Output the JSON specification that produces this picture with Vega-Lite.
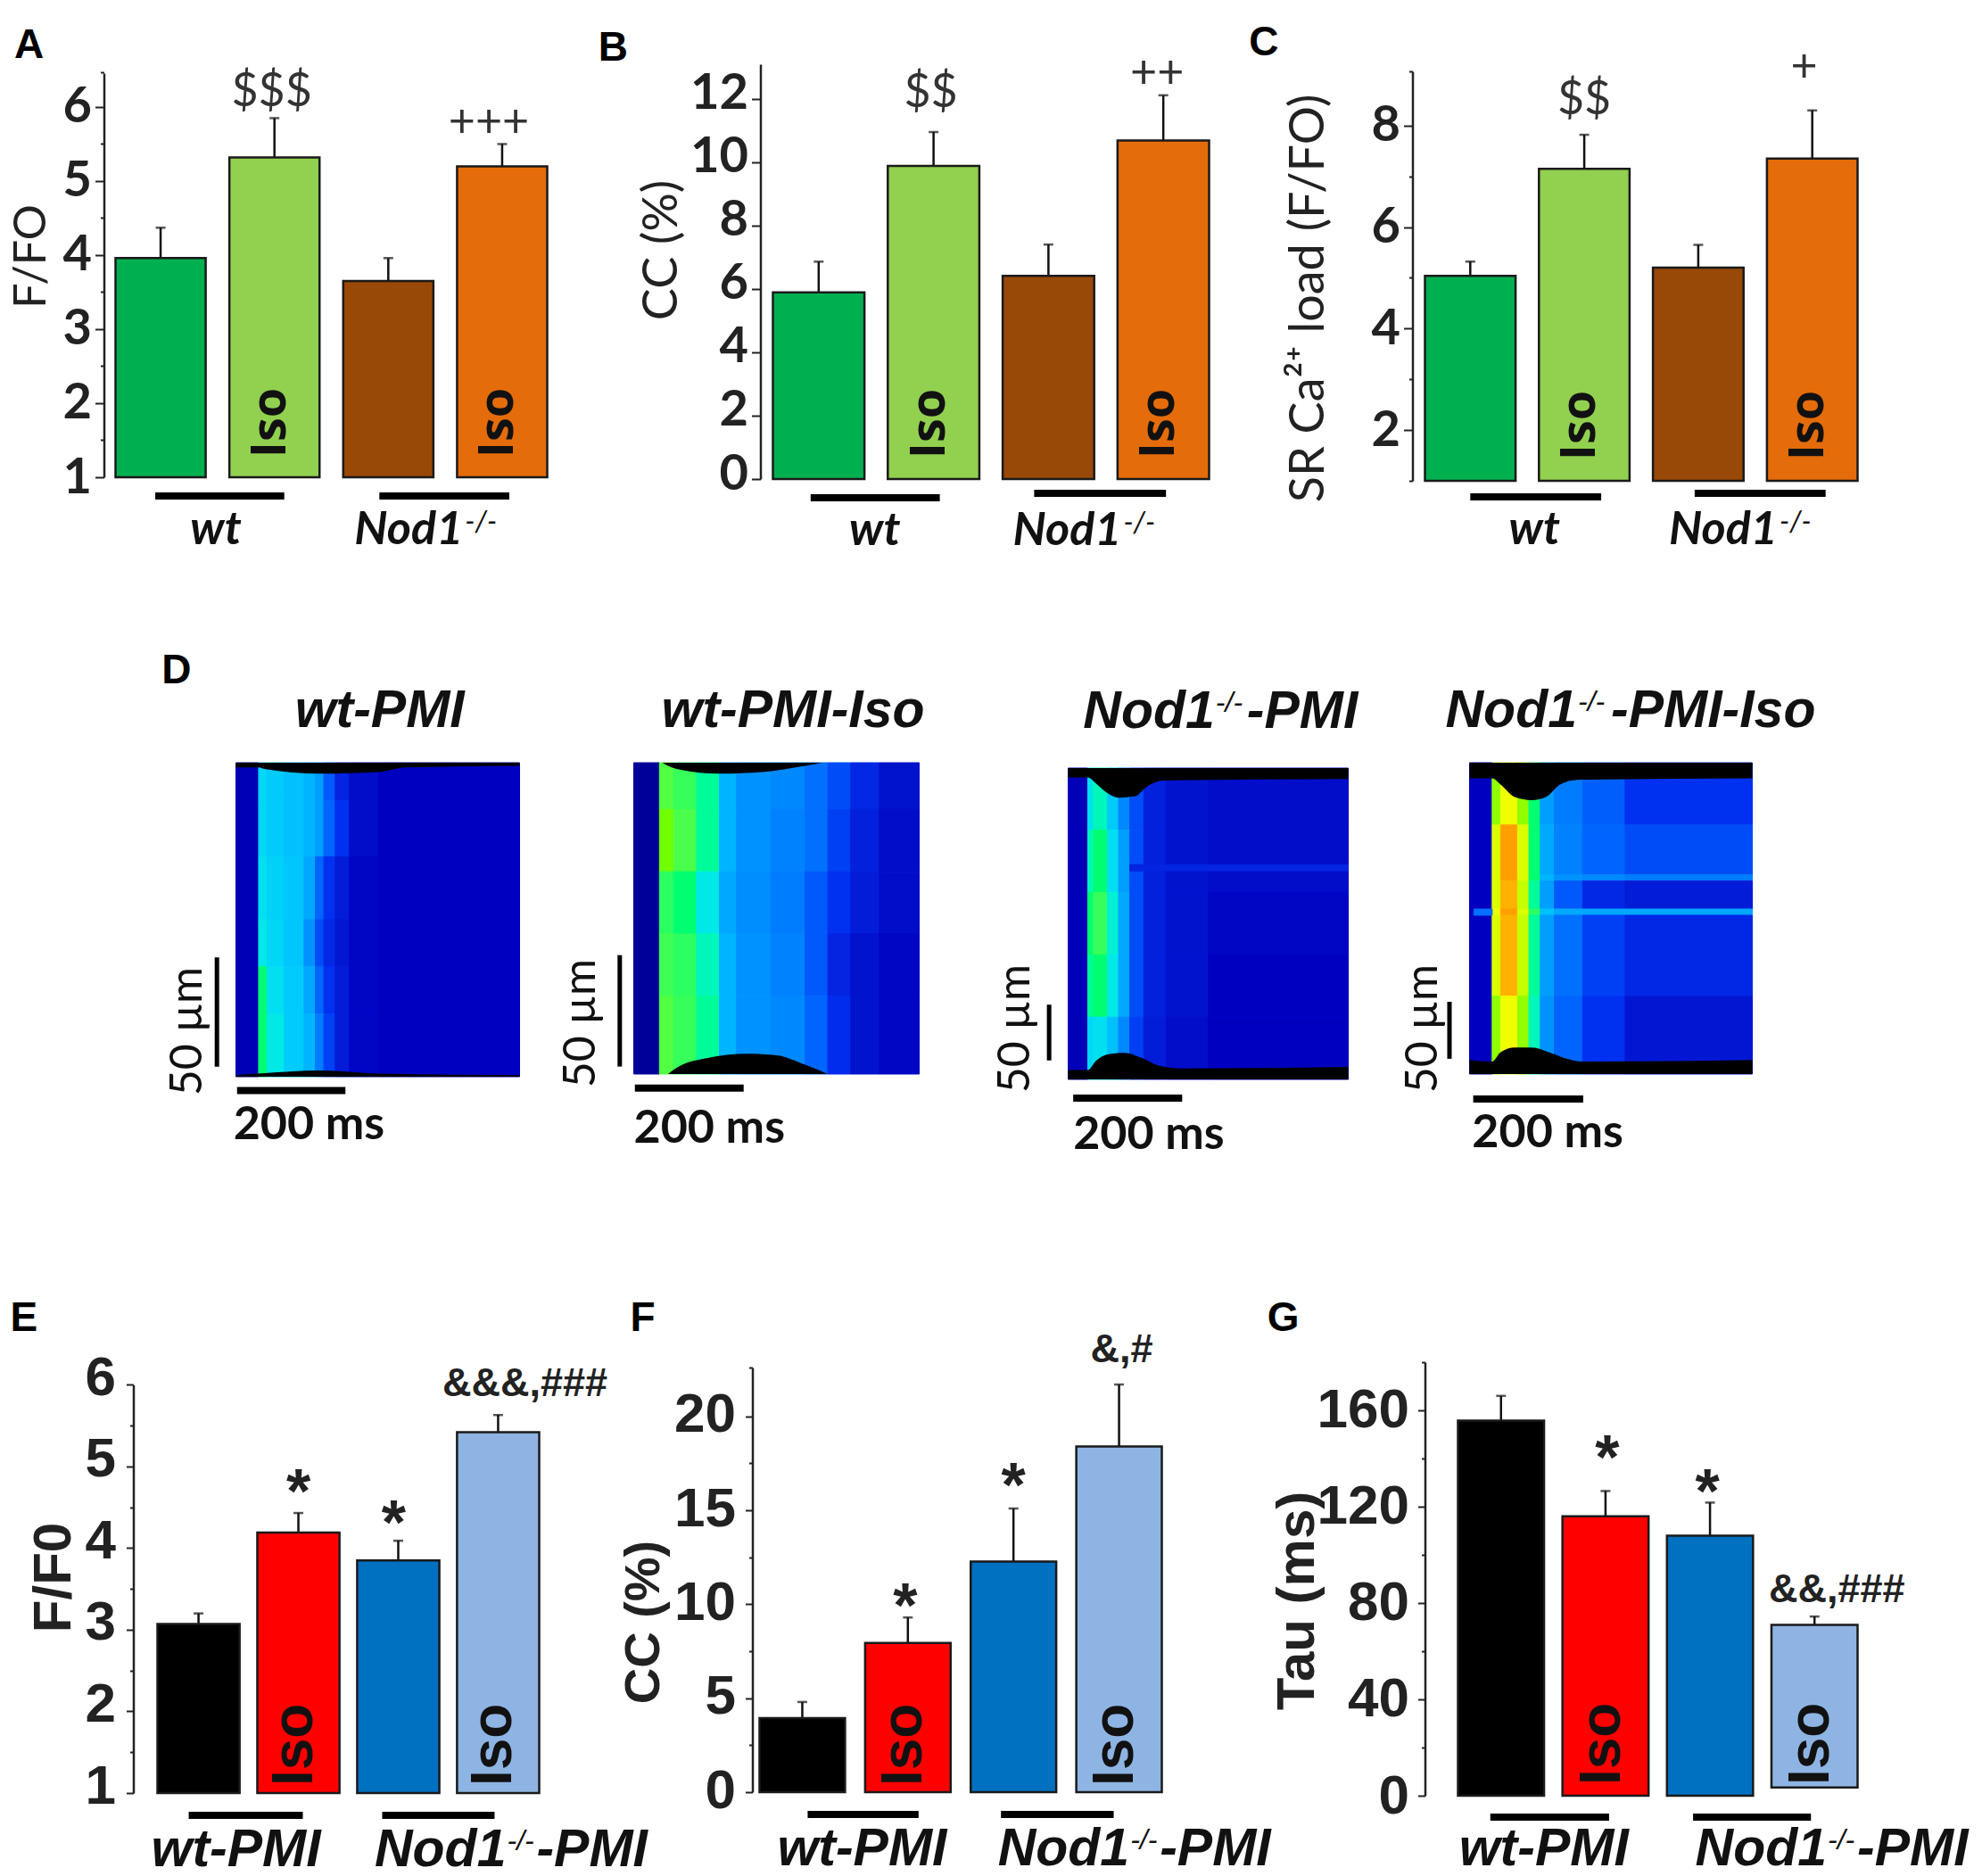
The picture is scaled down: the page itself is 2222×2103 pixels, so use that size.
{"$schema":"https://vega.github.io/schema/vega-lite/v6.json","bounds":"flush","spacing":672,"padding":{"left":10.5,"top":25,"right":0,"bottom":0},
"config":{"view":{"stroke":null},"range":{"heatmap":["#000080","#0000c0","#0030f0","#0070ff","#00a8ff","#00e0f0","#00ff70","#70ff00","#f0ff00","#ffa000","#ff3000"],"ramp":["#000080","#0000c0","#0030f0","#0070ff","#00a8ff","#00e0f0","#00ff70","#70ff00","#f0ff00","#ffa000","#ff3000"]},
"axis":{"grid":false,"domainColor":"#222","domainWidth":2.5,"tickColor":"#222","tickWidth":2,"labelColor":"#222","titleColor":"#222","labelOverlap":false,"labelFlush":false,"format":"d"},
"style":{
"letter":{"font":"Liberation Sans","fontWeight":"bold","fontSize":46,"align":"left","baseline":"alphabetic","color":"#000"},
"iso1":{"font":"Open Sans","fontWeight":"bold","fontSize":54,"angle":270,"align":"left","baseline":"middle","color":"#111"},
"iso3":{"font":"Liberation Sans","fontWeight":"bold","fontSize":64,"angle":270,"align":"left","baseline":"middle","color":"#111"},
"note1":{"font":"Lato","fontSize":52,"align":"center","baseline":"middle","color":"#333"},
"star":{"font":"Liberation Sans","fontWeight":"bold","fontSize":70,"align":"center","baseline":"middle","color":"#222"},
"note3":{"font":"Liberation Sans","fontWeight":"bold","fontSize":45,"align":"center","baseline":"middle","color":"#222"},
"lab1":{"font":"Lato","fontWeight":"bold","fontStyle":"italic","fontSize":52,"align":"center","baseline":"alphabetic","color":"#111"},
"lab1r":{"font":"Lato","fontWeight":"bold","fontStyle":"italic","fontSize":52,"align":"right","baseline":"alphabetic","color":"#111"},
"sup1":{"font":"Lato","fontStyle":"italic","fontSize":32,"align":"left","baseline":"alphabetic","color":"#111"},
"lab3":{"font":"Liberation Sans","fontWeight":"bold","fontStyle":"italic","fontSize":59,"align":"center","baseline":"alphabetic","color":"#111"},
"lab3r":{"font":"Liberation Sans","fontWeight":"bold","fontStyle":"italic","fontSize":59,"align":"right","baseline":"alphabetic","color":"#111"},
"lab3l":{"font":"Liberation Sans","fontWeight":"bold","fontStyle":"italic","fontSize":59,"align":"left","baseline":"alphabetic","color":"#111"},
"sup3":{"font":"Liberation Sans","fontStyle":"italic","fontSize":32,"align":"left","baseline":"alphabetic","color":"#111"},
"ms":{"font":"Lato","fontWeight":"bold","fontSize":52,"align":"left","baseline":"alphabetic","color":"#111"},
"um":{"font":"Lato","fontSize":50,"angle":270,"align":"center","baseline":"alphabetic","color":"#111"}
}},
"vconcat":[
{"bounds":"flush","spacing":60,"hconcat":[
{"width":676,"height":463,"data":{"values":[{"g":"1 wt","v":3.96,"e":4.37,"b":1},{"g":"2 wt Iso","v":5.32,"e":5.85,"b":1},{"g":"3 Nod1","v":3.65,"e":3.96,"b":1},{"g":"4 Nod1 Iso","v":5.2,"e":5.5,"b":1}]},
"layer":[
{"mark":{"type":"rule","strokeWidth":2.5,"color":"#111"},"encoding":{"x":{"field":"g","type":"nominal","axis":null},"y":{"field":"v","type":"quantitative","scale":{"domain":[1,6.578]}},"y2":{"field":"e"}}},
{"mark":{"type":"tick","size":11,"thickness":2.5,"color":"#111"},"encoding":{"x":{"field":"g","type":"nominal","axis":null},"y":{"field":"e","type":"quantitative","scale":{"domain":[1,6.578]}}}},
{"mark":{"type":"bar","stroke":"#1a1a1a","strokeWidth":2.5},"encoding":{"x":{"field":"g","type":"nominal","axis":null,"scale":{"range":[13,497],"paddingInner":0.208,"paddingOuter":0}},"y":{"field":"v","type":"quantitative","scale":{"domain":[1,6.578]},"axis":{"title":"F/FO","values":[1,1.5,2,2.5,3,3.5,4,4.5,5,5.5,6,6.47],"domainDash":[453,2000],"labelExpr":"datum.value % 1 == 0 ? datum.label : ''","tickSize":{"condition":{"test":"datum.value % 1 == 0","value":10},"value":4},"labelFont":"Lato","labelFontWeight":"bold","labelFontSize":56,"labelPadding":4,"titleFont":"Lato","titleFontWeight":"normal","titleFontSize":50,"titleX":-56,"titleY":215}},"y2":{"field":"b"},"color":{"field":"g","type":"nominal","legend":null,"scale":{"range":["#00b050","#92d050","#984807","#e46c0a"]}}}},
{"transform":[{"filter":"indexof(datum.g,'Iso')>=0"}],"mark":{"type":"text","style":"iso1","yOffset":-22,"xOffset":-4},"encoding":{"x":{"field":"g","type":"nominal","axis":null},"y":{"datum":1,"type":"quantitative","scale":{"domain":[1,6.578]}},"text":{"value":"Iso"}}},
{"data":{"values":[{"g":"2 wt Iso","t":"$$$","y":6.2}]},"mark":{"type":"text","style":"note1","xOffset":-3},"encoding":{"x":{"field":"g","type":"nominal","axis":null},"y":{"field":"y","type":"quantitative","scale":{"domain":[1,6.578]}},"text":{"field":"t"}}},
{"data":{"values":[{"g":"4 Nod1 Iso","t":"+++","y":5.78}]},"mark":{"type":"text","style":"note1","xOffset":-15},"encoding":{"x":{"field":"g","type":"nominal","axis":null},"y":{"field":"y","type":"quantitative","scale":{"domain":[1,6.578]}},"text":{"field":"t"}}},
{"data":{"values":[{"s":"1 wt","t":"2 wt Iso"}]},"mark":{"type":"rule","strokeWidth":8,"color":"#000","yOffset":21,"xOffset":-6,"x2Offset":11},"encoding":{"x":{"field":"s","type":"nominal","axis":null},"x2":{"field":"t"},"y":{"datum":1,"type":"quantitative","scale":{"domain":[1,6.578]}}}},
{"data":{"values":[{"s":"3 Nod1","t":"4 Nod1 Iso"}]},"mark":{"type":"rule","strokeWidth":8,"color":"#000","yOffset":21,"xOffset":-10,"x2Offset":8},"encoding":{"x":{"field":"s","type":"nominal","axis":null},"x2":{"field":"t"},"y":{"datum":1,"type":"quantitative","scale":{"domain":[1,6.578]}}}},
{"data":{"values":[{"g":"1 wt","t":"wt"}]},"mark":{"type":"text","style":"lab1","yOffset":75,"xOffset":62},"encoding":{"x":{"field":"g","type":"nominal","axis":null},"y":{"datum":1,"type":"quantitative","scale":{"domain":[1,6.578]}},"text":{"field":"t"}}},
{"data":{"values":[{"g":"3 Nod1","t":"Nod1"}]},"mark":{"type":"text","style":"lab1r","yOffset":75,"xOffset":84},"encoding":{"x":{"field":"g","type":"nominal","axis":null},"y":{"datum":1,"type":"quantitative","scale":{"domain":[1,6.578]}},"text":{"field":"t"}}},
{"data":{"values":[{"g":"3 Nod1","t":"-/-"}]},"mark":{"type":"text","style":"sup1","yOffset":61,"xOffset":86},"encoding":{"x":{"field":"g","type":"nominal","axis":null},"y":{"datum":1,"type":"quantitative","scale":{"domain":[1,6.578]}},"text":{"field":"t"}}},
{"data":{"values":[{"g":"1 wt","t":"A","y":6.66}]},"mark":{"type":"text","style":"letter","xOffset":-164},"encoding":{"x":{"field":"g","type":"nominal","axis":null},"y":{"field":"y","type":"quantitative","scale":{"domain":[1,6.578]}},"text":{"field":"t"}}}
]},
{"width":671,"height":465,"data":{"values":[{"g":"1 wt","v":5.89,"e":6.86,"b":0},{"g":"2 wt Iso","v":9.88,"e":10.95,"b":0},{"g":"3 Nod1","v":6.41,"e":7.4,"b":0},{"g":"4 Nod1 Iso","v":10.68,"e":12.11,"b":0}]},
"layer":[
{"mark":{"type":"rule","strokeWidth":2.5,"color":"#111"},"encoding":{"x":{"field":"g","type":"nominal","axis":null},"y":{"field":"v","type":"quantitative","scale":{"domain":[0,13.09]}},"y2":{"field":"e"}}},
{"mark":{"type":"tick","size":11,"thickness":2.5,"color":"#111"},"encoding":{"x":{"field":"g","type":"nominal","axis":null},"y":{"field":"e","type":"quantitative","scale":{"domain":[0,13.09]}}}},
{"mark":{"type":"bar","stroke":"#1a1a1a","strokeWidth":2.5},"encoding":{"x":{"field":"g","type":"nominal","axis":null,"scale":{"range":[14,503],"paddingInner":0.203,"paddingOuter":0}},"y":{"field":"v","type":"quantitative","scale":{"domain":[0,13.09]},"axis":{"title":"CC (%)","values":[0,1,2,3,4,5,6,7,8,9,10,11,12,13.09],"labelExpr":"datum.value % 2 == 0 ? datum.label : ''","tickSize":{"condition":{"test":"datum.value % 2 == 0","value":10},"value":4},"labelFont":"Lato","labelFontWeight":"bold","labelFontSize":56,"labelPadding":4,"labelOffset":-6,"titleFont":"Lato","titleFontWeight":"normal","titleFontSize":54,"titleX":-83,"titleY":208}},"y2":{"field":"b"},"color":{"field":"g","type":"nominal","legend":null,"scale":{"range":["#00b050","#92d050","#984807","#e46c0a"]}}}},
{"transform":[{"filter":"indexof(datum.g,'Iso')>=0"}],"mark":{"type":"text","style":"iso1","yOffset":-23,"xOffset":-4},"encoding":{"x":{"field":"g","type":"nominal","axis":null},"y":{"datum":0,"type":"quantitative","scale":{"domain":[0,13.09]}},"text":{"value":"Iso"}}},
{"data":{"values":[{"g":"2 wt Iso","t":"$$","y":12.2}]},"mark":{"type":"text","style":"note1","xOffset":-3},"encoding":{"x":{"field":"g","type":"nominal","axis":null},"y":{"field":"y","type":"quantitative","scale":{"domain":[0,13.09]}},"text":{"field":"t"}}},
{"data":{"values":[{"g":"4 Nod1 Iso","t":"++","y":12.77}]},"mark":{"type":"text","style":"note1","xOffset":-7},"encoding":{"x":{"field":"g","type":"nominal","axis":null},"y":{"field":"y","type":"quantitative","scale":{"domain":[0,13.09]}},"text":{"field":"t"}}},
{"data":{"values":[{"s":"1 wt","t":"2 wt Iso"}]},"mark":{"type":"rule","strokeWidth":8,"color":"#000","yOffset":21,"xOffset":-9,"x2Offset":7},"encoding":{"x":{"field":"s","type":"nominal","axis":null},"x2":{"field":"t"},"y":{"datum":0,"type":"quantitative","scale":{"domain":[0,13.09]}}}},
{"data":{"values":[{"s":"3 Nod1","t":"4 Nod1 Iso"}]},"mark":{"type":"rule","strokeWidth":8,"color":"#000","yOffset":16,"xOffset":-16,"x2Offset":3},"encoding":{"x":{"field":"s","type":"nominal","axis":null},"x2":{"field":"t"},"y":{"datum":0,"type":"quantitative","scale":{"domain":[0,13.09]}}}},
{"data":{"values":[{"g":"1 wt","t":"wt"}]},"mark":{"type":"text","style":"lab1","yOffset":74,"xOffset":63},"encoding":{"x":{"field":"g","type":"nominal","axis":null},"y":{"datum":0,"type":"quantitative","scale":{"domain":[0,13.09]}},"text":{"field":"t"}}},
{"data":{"values":[{"g":"3 Nod1","t":"Nod1"}]},"mark":{"type":"text","style":"lab1r","yOffset":74,"xOffset":82},"encoding":{"x":{"field":"g","type":"nominal","axis":null},"y":{"datum":0,"type":"quantitative","scale":{"domain":[0,13.09]}},"text":{"field":"t"}}},
{"data":{"values":[{"g":"3 Nod1","t":"-/-"}]},"mark":{"type":"text","style":"sup1","yOffset":60,"xOffset":84},"encoding":{"x":{"field":"g","type":"nominal","axis":null},"y":{"datum":0,"type":"quantitative","scale":{"domain":[0,13.09]}},"text":{"field":"t"}}},
{"data":{"values":[{"g":"1 wt","t":"B","y":13.2}]},"mark":{"type":"text","style":"letter","xOffset":-247},"encoding":{"x":{"field":"g","type":"nominal","axis":null},"y":{"field":"y","type":"quantitative","scale":{"domain":[0,13.09]}},"text":{"field":"t"}}}
]},
{"width":520,"height":467,"data":{"values":[{"g":"1 wt","v":5.04,"e":5.32,"b":1},{"g":"2 wt Iso","v":7.15,"e":7.82,"b":1},{"g":"3 Nod1","v":5.2,"e":5.65,"b":1},{"g":"4 Nod1 Iso","v":7.35,"e":8.3,"b":1}]},
"layer":[
{"mark":{"type":"rule","strokeWidth":2.5,"color":"#111"},"encoding":{"x":{"field":"g","type":"nominal","axis":null},"y":{"field":"v","type":"quantitative","scale":{"domain":[1,9.21]}},"y2":{"field":"e"}}},
{"mark":{"type":"tick","size":11,"thickness":2.5,"color":"#111"},"encoding":{"x":{"field":"g","type":"nominal","axis":null},"y":{"field":"e","type":"quantitative","scale":{"domain":[1,9.21]}}}},
{"mark":{"type":"bar","stroke":"#1a1a1a","strokeWidth":2.5},"encoding":{"x":{"field":"g","type":"nominal","axis":null,"scale":{"range":[14,499],"paddingInner":0.205,"paddingOuter":0}},"y":{"field":"v","type":"quantitative","scale":{"domain":[1,9.21]},"axis":{"title":"SR Ca²⁺ load (F/FO)","values":[1,2,3,4,5,6,7,8,9.07],"domainDash":[459,2000],"labelExpr":"datum.value % 2 == 0 ? datum.label : ''","tickSize":{"condition":{"test":"datum.value % 2 == 0","value":10},"value":4},"labelFont":"Lato","labelFontWeight":"bold","labelFontSize":56,"labelPadding":4,"titleFont":"Lato","titleFontWeight":"normal","titleFontSize":54,"titleX":-89,"titleY":262}},"y2":{"field":"b"},"color":{"field":"g","type":"nominal","legend":null,"scale":{"range":["#00b050","#92d050","#984807","#e46c0a"]}}}},
{"transform":[{"filter":"indexof(datum.g,'Iso')>=0"}],"mark":{"type":"text","style":"iso1","yOffset":-23,"xOffset":-4},"encoding":{"x":{"field":"g","type":"nominal","axis":null},"y":{"datum":1,"type":"quantitative","scale":{"domain":[1,9.21]}},"text":{"value":"Iso"}}},
{"data":{"values":[{"g":"2 wt Iso","t":"$$","y":8.5}]},"mark":{"type":"text","style":"note1"},"encoding":{"x":{"field":"g","type":"nominal","axis":null},"y":{"field":"y","type":"quantitative","scale":{"domain":[1,9.21]}},"text":{"field":"t"}}},
{"data":{"values":[{"g":"4 Nod1 Iso","t":"+","y":9.14}]},"mark":{"type":"text","style":"note1","xOffset":-9},"encoding":{"x":{"field":"g","type":"nominal","axis":null},"y":{"field":"y","type":"quantitative","scale":{"domain":[1,9.21]}},"text":{"field":"t"}}},
{"data":{"values":[{"s":"1 wt","t":"2 wt Iso"}]},"mark":{"type":"rule","strokeWidth":8,"color":"#000","yOffset":18,"xOffset":0,"x2Offset":19},"encoding":{"x":{"field":"s","type":"nominal","axis":null},"x2":{"field":"t"},"y":{"datum":1,"type":"quantitative","scale":{"domain":[1,9.21]}}}},
{"data":{"values":[{"s":"3 Nod1","t":"4 Nod1 Iso"}]},"mark":{"type":"rule","strokeWidth":8,"color":"#000","yOffset":14,"xOffset":-4,"x2Offset":15},"encoding":{"x":{"field":"s","type":"nominal","axis":null},"x2":{"field":"t"},"y":{"datum":1,"type":"quantitative","scale":{"domain":[1,9.21]}}}},
{"data":{"values":[{"g":"1 wt","t":"wt"}]},"mark":{"type":"text","style":"lab1","yOffset":71,"xOffset":72},"encoding":{"x":{"field":"g","type":"nominal","axis":null},"y":{"datum":1,"type":"quantitative","scale":{"domain":[1,9.21]}},"text":{"field":"t"}}},
{"data":{"values":[{"g":"3 Nod1","t":"Nod1"}]},"mark":{"type":"text","style":"lab1r","yOffset":71,"xOffset":89},"encoding":{"x":{"field":"g","type":"nominal","axis":null},"y":{"datum":1,"type":"quantitative","scale":{"domain":[1,9.21]}},"text":{"field":"t"}}},
{"data":{"values":[{"g":"3 Nod1","t":"-/-"}]},"mark":{"type":"text","style":"sup1","yOffset":57,"xOffset":91},"encoding":{"x":{"field":"g","type":"nominal","axis":null},"y":{"datum":1,"type":"quantitative","scale":{"domain":[1,9.21]}},"text":{"field":"t"}}},
{"data":{"values":[{"g":"1 wt","t":"C","y":9.38}]},"mark":{"type":"text","style":"letter","xOffset":-248},"encoding":{"x":{"field":"g","type":"nominal","axis":null},"y":{"field":"y","type":"quantitative","scale":{"domain":[1,9.21]}},"text":{"field":"t"}}}
]}
]},
{"bounds":"flush","spacing":100,"hconcat":[
{"width":494,"height":463,
"layer":[
{"data":{"values":[{"x":0,"x2":8,"y":0,"y2":100,"v":0.085},{"x":50,"x2":100,"y":0,"y2":100,"v":0.1},
{"x":8,"x2":11,"y":0,"y2":12,"v":0.48},{"x":11,"x2":17,"y":0,"y2":12,"v":0.46},{"x":17,"x2":24,"y":0,"y2":12,"v":0.44},{"x":24,"x2":28,"y":0,"y2":12,"v":0.42},{"x":28,"x2":31,"y":0,"y2":12,"v":0.38},{"x":31,"x2":35,"y":0,"y2":12,"v":0.26},{"x":35,"x2":40,"y":0,"y2":12,"v":0.17},{"x":40,"x2":50,"y":0,"y2":12,"v":0.12},
{"x":8,"x2":11,"y":12,"y2":30,"v":0.48},{"x":11,"x2":17,"y":12,"y2":30,"v":0.46},{"x":17,"x2":24,"y":12,"y2":30,"v":0.44},{"x":24,"x2":28,"y":12,"y2":30,"v":0.42},{"x":28,"x2":31,"y":12,"y2":30,"v":0.38},{"x":31,"x2":35,"y":12,"y2":30,"v":0.28},{"x":35,"x2":40,"y":12,"y2":30,"v":0.2},{"x":40,"x2":50,"y":12,"y2":30,"v":0.12},
{"x":8,"x2":11,"y":30,"y2":50,"v":0.5},{"x":11,"x2":17,"y":30,"y2":50,"v":0.47},{"x":17,"x2":24,"y":30,"y2":50,"v":0.45},{"x":24,"x2":28,"y":30,"y2":50,"v":0.4},{"x":28,"x2":31,"y":30,"y2":50,"v":0.28},{"x":31,"x2":35,"y":30,"y2":50,"v":0.2},{"x":35,"x2":40,"y":30,"y2":50,"v":0.15},{"x":40,"x2":50,"y":30,"y2":50,"v":0.11},
{"x":8,"x2":11,"y":50,"y2":65,"v":0.52},{"x":11,"x2":17,"y":50,"y2":65,"v":0.48},{"x":17,"x2":24,"y":50,"y2":65,"v":0.45},{"x":24,"x2":28,"y":50,"y2":65,"v":0.36},{"x":28,"x2":31,"y":50,"y2":65,"v":0.24},{"x":31,"x2":35,"y":50,"y2":65,"v":0.18},{"x":35,"x2":40,"y":50,"y2":65,"v":0.14},{"x":40,"x2":50,"y":50,"y2":65,"v":0.11},
{"x":8,"x2":11,"y":65,"y2":80,"v":0.6},{"x":11,"x2":17,"y":65,"y2":80,"v":0.5},{"x":17,"x2":24,"y":65,"y2":80,"v":0.46},{"x":24,"x2":28,"y":65,"y2":80,"v":0.4},{"x":28,"x2":31,"y":65,"y2":80,"v":0.28},{"x":31,"x2":35,"y":65,"y2":80,"v":0.2},{"x":35,"x2":40,"y":65,"y2":80,"v":0.15},{"x":40,"x2":50,"y":65,"y2":80,"v":0.11},
{"x":8,"x2":11,"y":80,"y2":100,"v":0.6},{"x":11,"x2":17,"y":80,"y2":100,"v":0.52},{"x":17,"x2":24,"y":80,"y2":100,"v":0.46},{"x":24,"x2":28,"y":80,"y2":100,"v":0.42},{"x":28,"x2":31,"y":80,"y2":100,"v":0.32},{"x":31,"x2":35,"y":80,"y2":100,"v":0.22},{"x":35,"x2":40,"y":80,"y2":100,"v":0.15},{"x":40,"x2":50,"y":80,"y2":100,"v":0.11}]},
"mark":{"type":"rect","strokeWidth":1},"encoding":{"x":{"field":"x","type":"quantitative","axis":null,"scale":{"domain":[0,100],"range":[148,466]}},"x2":{"field":"x2"},"y":{"field":"y","type":"quantitative","axis":null,"scale":{"domain":[0,100],"range":[111,463]}},"y2":{"field":"y2"},"color":{"field":"v","type":"quantitative","legend":null,"scale":{"domain":[0,1]}},"stroke":{"field":"v","type":"quantitative","legend":null,"scale":{"domain":[0,1]}}}},
{"data":{"values":[{"x":0,"y":1.5},{"x":8,"y":1.5},{"x":10,"y":2},{"x":30,"y":3.5},{"x":50,"y":3},{"x":60,"y":1.5},{"x":100,"y":1}]},"mark":{"type":"area","interpolate":"monotone","color":"#000"},"encoding":{"x":{"field":"x","type":"quantitative","axis":null,"scale":{"domain":[0,100],"range":[148,466]}},"y":{"field":"y","type":"quantitative","axis":null,"scale":{"domain":[0,100],"range":[111,463]}},"y2":{"datum":0}}},
{"data":{"values":[{"x":0,"y":99.5},{"x":8,"y":99},{"x":30,"y":98},{"x":50,"y":99},{"x":100,"y":99.5}]},"mark":{"type":"area","interpolate":"monotone","color":"#000"},"encoding":{"x":{"field":"x","type":"quantitative","axis":null,"scale":{"domain":[0,100],"range":[148,466]}},"y":{"field":"y","type":"quantitative","axis":null,"scale":{"domain":[0,100],"range":[111,463]}},"y2":{"datum":100}}},
{"data":{"values":[{"x":-6.7,"y":62,"y2":96.8}]},"mark":{"type":"rule","strokeWidth":5,"color":"#000"},"encoding":{"x":{"field":"x","type":"quantitative","axis":null,"scale":{"domain":[0,100],"range":[148,466]}},"y":{"field":"y","type":"quantitative","axis":null,"scale":{"domain":[0,100],"range":[111,463]}},"y2":{"field":"y2"}}},
{"data":{"values":[{"x":0.4,"x2":38.6,"y":104.4}]},"mark":{"type":"rule","strokeWidth":8,"color":"#000"},"encoding":{"x":{"field":"x","type":"quantitative","axis":null,"scale":{"domain":[0,100],"range":[148,466]}},"x2":{"field":"x2"},"y":{"field":"y","type":"quantitative","axis":null,"scale":{"domain":[0,100],"range":[111,463]}}}},
{"data":{"values":[{"x":-0.9,"y":119.8,"t":"200 ms"}]},"mark":{"type":"text","style":"ms"},"encoding":{"x":{"field":"x","type":"quantitative","axis":null,"scale":{"domain":[0,100],"range":[148,466]}},"y":{"field":"y","type":"quantitative","axis":null,"scale":{"domain":[0,100],"range":[111,463]}},"text":{"field":"t"}}},
{"data":{"values":[{"x":-12,"y":85.5,"t":"50 µm"}]},"mark":{"type":"text","style":"um"},"encoding":{"x":{"field":"x","type":"quantitative","axis":null,"scale":{"domain":[0,100],"range":[148,466]}},"y":{"field":"y","type":"quantitative","axis":null,"scale":{"domain":[0,100],"range":[111,463]}},"text":{"field":"t"}}},
{"data":{"values":[{"x":50.7,"y":-11.3,"t":"wt-PMI"}]},"mark":{"type":"text","style":"lab3"},"encoding":{"x":{"field":"x","type":"quantitative","axis":null,"scale":{"domain":[0,100],"range":[148,466]}},"y":{"field":"y","type":"quantitative","axis":null,"scale":{"domain":[0,100],"range":[111,463]}},"text":{"field":"t"}}},
{"data":{"values":[{"x":-26.2,"y":-25.4,"t":"D"}]},"mark":{"type":"text","style":"letter"},"encoding":{"x":{"field":"x","type":"quantitative","axis":null,"scale":{"domain":[0,100],"range":[148,466]}},"y":{"field":"y","type":"quantitative","axis":null,"scale":{"domain":[0,100],"range":[111,463]}},"text":{"field":"t"}}}
]},
{"width":387,"height":460,
"layer":[
{"data":{"values":[{"x":0,"x2":9,"y":0,"y2":100,"v":0.04},
{"x":9,"x2":14,"y":0,"y2":15,"v":0.66},{"x":14,"x2":22,"y":0,"y2":15,"v":0.63},{"x":22,"x2":30,"y":0,"y2":15,"v":0.58},{"x":30,"x2":36,"y":0,"y2":15,"v":0.42},{"x":36,"x2":48,"y":0,"y2":15,"v":0.36},{"x":48,"x2":60,"y":0,"y2":15,"v":0.34},{"x":60,"x2":68,"y":0,"y2":15,"v":0.3},{"x":68,"x2":76,"y":0,"y2":15,"v":0.24},{"x":76,"x2":86,"y":0,"y2":15,"v":0.18},{"x":86,"x2":100,"y":0,"y2":15,"v":0.13},
{"x":9,"x2":14,"y":15,"y2":35,"v":0.7},{"x":14,"x2":22,"y":15,"y2":35,"v":0.65},{"x":22,"x2":30,"y":15,"y2":35,"v":0.58},{"x":30,"x2":36,"y":15,"y2":35,"v":0.42},{"x":36,"x2":48,"y":15,"y2":35,"v":0.36},{"x":48,"x2":60,"y":15,"y2":35,"v":0.33},{"x":60,"x2":68,"y":15,"y2":35,"v":0.3},{"x":68,"x2":76,"y":15,"y2":35,"v":0.22},{"x":76,"x2":86,"y":15,"y2":35,"v":0.16},{"x":86,"x2":100,"y":15,"y2":35,"v":0.12},
{"x":9,"x2":14,"y":35,"y2":55,"v":0.62},{"x":14,"x2":22,"y":35,"y2":55,"v":0.6},{"x":22,"x2":30,"y":35,"y2":55,"v":0.52},{"x":30,"x2":36,"y":35,"y2":55,"v":0.4},{"x":36,"x2":48,"y":35,"y2":55,"v":0.35},{"x":48,"x2":60,"y":35,"y2":55,"v":0.32},{"x":60,"x2":68,"y":35,"y2":55,"v":0.26},{"x":68,"x2":76,"y":35,"y2":55,"v":0.2},{"x":76,"x2":86,"y":35,"y2":55,"v":0.15},{"x":86,"x2":100,"y":35,"y2":55,"v":0.12},
{"x":9,"x2":14,"y":55,"y2":75,"v":0.64},{"x":14,"x2":22,"y":55,"y2":75,"v":0.62},{"x":22,"x2":30,"y":55,"y2":75,"v":0.56},{"x":30,"x2":36,"y":55,"y2":75,"v":0.42},{"x":36,"x2":48,"y":55,"y2":75,"v":0.36},{"x":48,"x2":60,"y":55,"y2":75,"v":0.33},{"x":60,"x2":68,"y":55,"y2":75,"v":0.26},{"x":68,"x2":76,"y":55,"y2":75,"v":0.17},{"x":76,"x2":86,"y":55,"y2":75,"v":0.13},{"x":86,"x2":100,"y":55,"y2":75,"v":0.11},
{"x":9,"x2":14,"y":75,"y2":100,"v":0.66},{"x":14,"x2":22,"y":75,"y2":100,"v":0.63},{"x":22,"x2":30,"y":75,"y2":100,"v":0.58},{"x":30,"x2":36,"y":75,"y2":100,"v":0.42},{"x":36,"x2":48,"y":75,"y2":100,"v":0.36},{"x":48,"x2":60,"y":75,"y2":100,"v":0.34},{"x":60,"x2":68,"y":75,"y2":100,"v":0.28},{"x":68,"x2":76,"y":75,"y2":100,"v":0.19},{"x":76,"x2":86,"y":75,"y2":100,"v":0.13},{"x":86,"x2":100,"y":75,"y2":100,"v":0.11}]},
"mark":{"type":"rect","strokeWidth":1},"encoding":{"x":{"field":"x","type":"quantitative","axis":null,"scale":{"domain":[0,100],"range":[0,320]}},"x2":{"field":"x2"},"y":{"field":"y","type":"quantitative","axis":null,"scale":{"domain":[0,100],"range":[111,460]}},"y2":{"field":"y2"},"color":{"field":"v","type":"quantitative","legend":null,"scale":{"domain":[0,1]}},"stroke":{"field":"v","type":"quantitative","legend":null,"scale":{"domain":[0,1]}}}},
{"data":{"values":[{"x":10,"y":0},{"x":15,"y":2},{"x":30,"y":3.5},{"x":45,"y":3},{"x":60,"y":1},{"x":66,"y":0}]},"mark":{"type":"area","interpolate":"monotone","color":"#000"},"encoding":{"x":{"field":"x","type":"quantitative","axis":null,"scale":{"domain":[0,100],"range":[0,320]}},"y":{"field":"y","type":"quantitative","axis":null,"scale":{"domain":[0,100],"range":[111,460]}},"y2":{"datum":0}}},
{"data":{"values":[{"x":12,"y":100},{"x":15,"y":98},{"x":25,"y":95},{"x":40,"y":93.5},{"x":50,"y":94},{"x":60,"y":97},{"x":68,"y":100}]},"mark":{"type":"area","interpolate":"monotone","color":"#000"},"encoding":{"x":{"field":"x","type":"quantitative","axis":null,"scale":{"domain":[0,100],"range":[0,320]}},"y":{"field":"y","type":"quantitative","axis":null,"scale":{"domain":[0,100],"range":[111,460]}},"y2":{"datum":100}}},
{"data":{"values":[{"x":-4.9,"y":61.8,"y2":97.6}]},"mark":{"type":"rule","strokeWidth":5,"color":"#000"},"encoding":{"x":{"field":"x","type":"quantitative","axis":null,"scale":{"domain":[0,100],"range":[0,320]}},"y":{"field":"y","type":"quantitative","axis":null,"scale":{"domain":[0,100],"range":[111,460]}},"y2":{"field":"y2"}}},
{"data":{"values":[{"x":0.4,"x2":38.5,"y":104.5}]},"mark":{"type":"rule","strokeWidth":8,"color":"#000"},"encoding":{"x":{"field":"x","type":"quantitative","axis":null,"scale":{"domain":[0,100],"range":[0,320]}},"x2":{"field":"x2"},"y":{"field":"y","type":"quantitative","axis":null,"scale":{"domain":[0,100],"range":[111,460]}}}},
{"data":{"values":[{"x":0,"y":122,"t":"200 ms"}]},"mark":{"type":"text","style":"ms"},"encoding":{"x":{"field":"x","type":"quantitative","axis":null,"scale":{"domain":[0,100],"range":[0,320]}},"y":{"field":"y","type":"quantitative","axis":null,"scale":{"domain":[0,100],"range":[111,460]}},"text":{"field":"t"}}},
{"data":{"values":[{"x":-13.7,"y":83.7,"t":"50 µm"}]},"mark":{"type":"text","style":"um"},"encoding":{"x":{"field":"x","type":"quantitative","axis":null,"scale":{"domain":[0,100],"range":[0,320]}},"y":{"field":"y","type":"quantitative","axis":null,"scale":{"domain":[0,100],"range":[111,460]}},"text":{"field":"t"}}},
{"data":{"values":[{"x":55.8,"y":-11.4,"t":"wt-PMI-Iso"}]},"mark":{"type":"text","style":"lab3"},"encoding":{"x":{"field":"x","type":"quantitative","axis":null,"scale":{"domain":[0,100],"range":[0,320]}},"y":{"field":"y","type":"quantitative","axis":null,"scale":{"domain":[0,100],"range":[111,460]}},"text":{"field":"t"}}}
]},
{"width":350,"height":466,
"layer":[
{"data":{"values":[{"x":0,"x2":7,"y":0,"y2":100,"v":0.09},
{"x":7,"x2":9,"y":0,"y2":20,"v":0.5},{"x":9,"x2":14,"y":0,"y2":20,"v":0.56},{"x":14,"x2":18,"y":0,"y2":20,"v":0.46},{"x":18,"x2":22,"y":0,"y2":20,"v":0.34},{"x":22,"x2":27,"y":0,"y2":20,"v":0.24},{"x":27,"x2":35,"y":0,"y2":20,"v":0.16},{"x":35,"x2":50,"y":0,"y2":20,"v":0.13},{"x":50,"x2":100,"y":0,"y2":20,"v":0.12},
{"x":7,"x2":9,"y":20,"y2":40,"v":0.56},{"x":9,"x2":14,"y":20,"y2":40,"v":0.6},{"x":14,"x2":18,"y":20,"y2":40,"v":0.5},{"x":18,"x2":22,"y":20,"y2":40,"v":0.38},{"x":22,"x2":27,"y":20,"y2":40,"v":0.24},{"x":27,"x2":35,"y":20,"y2":40,"v":0.16},{"x":35,"x2":50,"y":20,"y2":40,"v":0.13},{"x":50,"x2":100,"y":20,"y2":40,"v":0.12},
{"x":7,"x2":9,"y":40,"y2":60,"v":0.6},{"x":9,"x2":14,"y":40,"y2":60,"v":0.63},{"x":14,"x2":18,"y":40,"y2":60,"v":0.54},{"x":18,"x2":22,"y":40,"y2":60,"v":0.4},{"x":22,"x2":27,"y":40,"y2":60,"v":0.24},{"x":27,"x2":35,"y":40,"y2":60,"v":0.16},{"x":35,"x2":50,"y":40,"y2":60,"v":0.13},{"x":50,"x2":100,"y":40,"y2":60,"v":0.11},
{"x":7,"x2":9,"y":60,"y2":80,"v":0.58},{"x":9,"x2":14,"y":60,"y2":80,"v":0.6},{"x":14,"x2":18,"y":60,"y2":80,"v":0.52},{"x":18,"x2":22,"y":60,"y2":80,"v":0.4},{"x":22,"x2":27,"y":60,"y2":80,"v":0.24},{"x":27,"x2":35,"y":60,"y2":80,"v":0.16},{"x":35,"x2":50,"y":60,"y2":80,"v":0.13},{"x":50,"x2":100,"y":60,"y2":80,"v":0.1},
{"x":7,"x2":9,"y":80,"y2":100,"v":0.48},{"x":9,"x2":14,"y":80,"y2":100,"v":0.5},{"x":14,"x2":18,"y":80,"y2":100,"v":0.44},{"x":18,"x2":22,"y":80,"y2":100,"v":0.34},{"x":22,"x2":27,"y":80,"y2":100,"v":0.22},{"x":27,"x2":35,"y":80,"y2":100,"v":0.15},{"x":35,"x2":50,"y":80,"y2":100,"v":0.12},{"x":50,"x2":100,"y":80,"y2":100,"v":0.1},
{"x":22,"x2":100,"y":31,"y2":33,"v":0.17}]},
"mark":{"type":"rect","strokeWidth":1},"encoding":{"x":{"field":"x","type":"quantitative","axis":null,"scale":{"domain":[0,100],"range":[0,314]}},"x2":{"field":"x2"},"y":{"field":"y","type":"quantitative","axis":null,"scale":{"domain":[0,100],"range":[117,466]}},"y2":{"field":"y2"},"color":{"field":"v","type":"quantitative","legend":null,"scale":{"domain":[0,1]}},"stroke":{"field":"v","type":"quantitative","legend":null,"scale":{"domain":[0,1]}}}},
{"data":{"values":[{"x":0,"y":3},{"x":7,"y":3},{"x":10,"y":5},{"x":14,"y":8},{"x":18,"y":9.5},{"x":24,"y":9},{"x":28,"y":6},{"x":34,"y":4},{"x":100,"y":3.5}]},"mark":{"type":"area","interpolate":"monotone","color":"#000"},"encoding":{"x":{"field":"x","type":"quantitative","axis":null,"scale":{"domain":[0,100],"range":[0,314]}},"y":{"field":"y","type":"quantitative","axis":null,"scale":{"domain":[0,100],"range":[117,466]}},"y2":{"datum":0}}},
{"data":{"values":[{"x":0,"y":97},{"x":7,"y":97},{"x":10,"y":94},{"x":14,"y":92},{"x":20,"y":91.5},{"x":26,"y":93},{"x":32,"y":95.5},{"x":40,"y":96.5},{"x":100,"y":96}]},"mark":{"type":"area","interpolate":"monotone","color":"#000"},"encoding":{"x":{"field":"x","type":"quantitative","axis":null,"scale":{"domain":[0,100],"range":[0,314]}},"y":{"field":"y","type":"quantitative","axis":null,"scale":{"domain":[0,100],"range":[117,466]}},"y2":{"datum":100}}},
{"data":{"values":[{"x":-6.8,"y":76,"y2":93.9}]},"mark":{"type":"rule","strokeWidth":5,"color":"#000"},"encoding":{"x":{"field":"x","type":"quantitative","axis":null,"scale":{"domain":[0,100],"range":[0,314]}},"y":{"field":"y","type":"quantitative","axis":null,"scale":{"domain":[0,100],"range":[117,466]}},"y2":{"field":"y2"}}},
{"data":{"values":[{"x":1.8,"x2":40.7,"y":106}]},"mark":{"type":"rule","strokeWidth":8,"color":"#000"},"encoding":{"x":{"field":"x","type":"quantitative","axis":null,"scale":{"domain":[0,100],"range":[0,314]}},"x2":{"field":"x2"},"y":{"field":"y","type":"quantitative","axis":null,"scale":{"domain":[0,100],"range":[117,466]}}}},
{"data":{"values":[{"x":1.8,"y":122.4,"t":"200 ms"}]},"mark":{"type":"text","style":"ms"},"encoding":{"x":{"field":"x","type":"quantitative","axis":null,"scale":{"domain":[0,100],"range":[0,314]}},"y":{"field":"y","type":"quantitative","axis":null,"scale":{"domain":[0,100],"range":[117,466]}},"text":{"field":"t"}}},
{"data":{"values":[{"x":-14,"y":83.7,"t":"50 µm"}]},"mark":{"type":"text","style":"um"},"encoding":{"x":{"field":"x","type":"quantitative","axis":null,"scale":{"domain":[0,100],"range":[0,314]}},"y":{"field":"y","type":"quantitative","axis":null,"scale":{"domain":[0,100],"range":[117,466]}},"text":{"field":"t"}}},
{"data":{"values":[{"x":63.8,"y":-13,"t":"-PMI"}]},"mark":{"type":"text","style":"lab3l"},"encoding":{"x":{"field":"x","type":"quantitative","axis":null,"scale":{"domain":[0,100],"range":[0,314]}},"y":{"field":"y","type":"quantitative","axis":null,"scale":{"domain":[0,100],"range":[117,466]}},"text":{"field":"t"}}},
{"data":{"values":[{"x":63.8,"y":-13,"t":"Nod1"}]},"mark":{"type":"text","style":"lab3r","xOffset":-36},"encoding":{"x":{"field":"x","type":"quantitative","axis":null,"scale":{"domain":[0,100],"range":[0,314]}},"y":{"field":"y","type":"quantitative","axis":null,"scale":{"domain":[0,100],"range":[117,466]}},"text":{"field":"t"}}},
{"data":{"values":[{"x":63.8,"y":-13,"t":"-/-"}]},"mark":{"type":"text","style":"sup3","xOffset":-35,"yOffset":-18},"encoding":{"x":{"field":"x","type":"quantitative","axis":null,"scale":{"domain":[0,100],"range":[0,314]}},"y":{"field":"y","type":"quantitative","axis":null,"scale":{"domain":[0,100],"range":[117,466]}},"text":{"field":"t"}}}
]},
{"width":317,"height":460,
"layer":[
{"data":{"values":[{"x":0,"x2":8,"y":0,"y2":100,"v":0.1},
{"x":8,"x2":11,"y":0,"y2":20,"v":0.72},{"x":11,"x2":17,"y":0,"y2":20,"v":0.8},{"x":17,"x2":21,"y":0,"y2":20,"v":0.72},{"x":21,"x2":25,"y":0,"y2":20,"v":0.6},{"x":25,"x2":30,"y":0,"y2":20,"v":0.38},{"x":30,"x2":40,"y":0,"y2":20,"v":0.32},{"x":40,"x2":55,"y":0,"y2":20,"v":0.27},{"x":55,"x2":100,"y":0,"y2":20,"v":0.2},
{"x":8,"x2":11,"y":20,"y2":36,"v":0.78},{"x":11,"x2":17,"y":20,"y2":36,"v":0.9},{"x":17,"x2":21,"y":20,"y2":36,"v":0.78},{"x":21,"x2":25,"y":20,"y2":36,"v":0.6},{"x":25,"x2":30,"y":20,"y2":36,"v":0.4},{"x":30,"x2":40,"y":20,"y2":36,"v":0.33},{"x":40,"x2":55,"y":20,"y2":36,"v":0.28},{"x":55,"x2":100,"y":20,"y2":36,"v":0.24},
{"x":8,"x2":11,"y":36,"y2":38,"v":0.78},{"x":11,"x2":17,"y":36,"y2":38,"v":0.9},{"x":17,"x2":21,"y":36,"y2":38,"v":0.78},{"x":21,"x2":25,"y":36,"y2":38,"v":0.6},{"x":25,"x2":30,"y":36,"y2":38,"v":0.42},{"x":30,"x2":40,"y":36,"y2":38,"v":0.36},{"x":40,"x2":55,"y":36,"y2":38,"v":0.34},{"x":55,"x2":100,"y":36,"y2":38,"v":0.32},
{"x":8,"x2":11,"y":38,"y2":47,"v":0.78},{"x":11,"x2":17,"y":38,"y2":47,"v":0.88},{"x":17,"x2":21,"y":38,"y2":47,"v":0.76},{"x":21,"x2":25,"y":38,"y2":47,"v":0.58},{"x":25,"x2":30,"y":38,"y2":47,"v":0.38},{"x":30,"x2":40,"y":38,"y2":47,"v":0.26},{"x":40,"x2":55,"y":38,"y2":47,"v":0.18},{"x":55,"x2":100,"y":38,"y2":47,"v":0.15},
{"x":8,"x2":11,"y":47,"y2":49,"v":0.8},{"x":11,"x2":17,"y":47,"y2":49,"v":0.9},{"x":17,"x2":21,"y":47,"y2":49,"v":0.78},{"x":21,"x2":25,"y":47,"y2":49,"v":0.62},{"x":25,"x2":30,"y":47,"y2":49,"v":0.44},{"x":30,"x2":40,"y":47,"y2":49,"v":0.4},{"x":40,"x2":55,"y":47,"y2":49,"v":0.4},{"x":55,"x2":100,"y":47,"y2":49,"v":0.4},
{"x":8,"x2":11,"y":49,"y2":75,"v":0.78},{"x":11,"x2":17,"y":49,"y2":75,"v":0.88},{"x":17,"x2":21,"y":49,"y2":75,"v":0.76},{"x":21,"x2":25,"y":49,"y2":75,"v":0.58},{"x":25,"x2":30,"y":49,"y2":75,"v":0.38},{"x":30,"x2":40,"y":49,"y2":75,"v":0.3},{"x":40,"x2":55,"y":49,"y2":75,"v":0.22},{"x":55,"x2":100,"y":49,"y2":75,"v":0.18},
{"x":8,"x2":11,"y":75,"y2":100,"v":0.72},{"x":11,"x2":17,"y":75,"y2":100,"v":0.8},{"x":17,"x2":21,"y":75,"y2":100,"v":0.72},{"x":21,"x2":25,"y":75,"y2":100,"v":0.56},{"x":25,"x2":30,"y":75,"y2":100,"v":0.36},{"x":30,"x2":40,"y":75,"y2":100,"v":0.28},{"x":40,"x2":55,"y":75,"y2":100,"v":0.2},{"x":55,"x2":100,"y":75,"y2":100,"v":0.14},
{"x":1.5,"x2":8,"y":47,"y2":49,"v":0.3}]},
"mark":{"type":"rect","strokeWidth":1},"encoding":{"x":{"field":"x","type":"quantitative","axis":null,"scale":{"domain":[0,100],"range":[0,317]}},"x2":{"field":"x2"},"y":{"field":"y","type":"quantitative","axis":null,"scale":{"domain":[0,100],"range":[111,460]}},"y2":{"field":"y2"},"color":{"field":"v","type":"quantitative","legend":null,"scale":{"domain":[0,1]}},"stroke":{"field":"v","type":"quantitative","legend":null,"scale":{"domain":[0,1]}}}},
{"data":{"values":[{"x":0,"y":5},{"x":8,"y":5},{"x":11,"y":7},{"x":16,"y":11},{"x":22,"y":12},{"x":27,"y":11},{"x":32,"y":7},{"x":38,"y":5.5},{"x":100,"y":5}]},"mark":{"type":"area","interpolate":"monotone","color":"#000"},"encoding":{"x":{"field":"x","type":"quantitative","axis":null,"scale":{"domain":[0,100],"range":[0,317]}},"y":{"field":"y","type":"quantitative","axis":null,"scale":{"domain":[0,100],"range":[111,460]}},"y2":{"datum":0}}},
{"data":{"values":[{"x":0,"y":95.5},{"x":8,"y":96},{"x":11,"y":93},{"x":16,"y":91.5},{"x":22,"y":91.5},{"x":28,"y":93},{"x":34,"y":95},{"x":40,"y":96},{"x":100,"y":95.5}]},"mark":{"type":"area","interpolate":"monotone","color":"#000"},"encoding":{"x":{"field":"x","type":"quantitative","axis":null,"scale":{"domain":[0,100],"range":[0,317]}},"y":{"field":"y","type":"quantitative","axis":null,"scale":{"domain":[0,100],"range":[111,460]}},"y2":{"datum":100}}},
{"data":{"values":[{"x":-7.1,"y":76.8,"y2":95.1}]},"mark":{"type":"rule","strokeWidth":5,"color":"#000"},"encoding":{"x":{"field":"x","type":"quantitative","axis":null,"scale":{"domain":[0,100],"range":[0,317]}},"y":{"field":"y","type":"quantitative","axis":null,"scale":{"domain":[0,100],"range":[111,460]}},"y2":{"field":"y2"}}},
{"data":{"values":[{"x":1.3,"x2":40.2,"y":108}]},"mark":{"type":"rule","strokeWidth":8,"color":"#000"},"encoding":{"x":{"field":"x","type":"quantitative","axis":null,"scale":{"domain":[0,100],"range":[0,317]}},"x2":{"field":"x2"},"y":{"field":"y","type":"quantitative","axis":null,"scale":{"domain":[0,100],"range":[111,460]}}}},
{"data":{"values":[{"x":0.9,"y":123.6,"t":"200 ms"}]},"mark":{"type":"text","style":"ms"},"encoding":{"x":{"field":"x","type":"quantitative","axis":null,"scale":{"domain":[0,100],"range":[0,317]}},"y":{"field":"y","type":"quantitative","axis":null,"scale":{"domain":[0,100],"range":[111,460]}},"text":{"field":"t"}}},
{"data":{"values":[{"x":-11.6,"y":85.4,"t":"50 µm"}]},"mark":{"type":"text","style":"um"},"encoding":{"x":{"field":"x","type":"quantitative","axis":null,"scale":{"domain":[0,100],"range":[0,317]}},"y":{"field":"y","type":"quantitative","axis":null,"scale":{"domain":[0,100],"range":[111,460]}},"text":{"field":"t"}}},
{"data":{"values":[{"x":50,"y":-11.4,"t":"-PMI-Iso"}]},"mark":{"type":"text","style":"lab3l"},"encoding":{"x":{"field":"x","type":"quantitative","axis":null,"scale":{"domain":[0,100],"range":[0,317]}},"y":{"field":"y","type":"quantitative","axis":null,"scale":{"domain":[0,100],"range":[111,460]}},"text":{"field":"t"}}},
{"data":{"values":[{"x":50,"y":-11.4,"t":"Nod1"}]},"mark":{"type":"text","style":"lab3r","xOffset":-38},"encoding":{"x":{"field":"x","type":"quantitative","axis":null,"scale":{"domain":[0,100],"range":[0,317]}},"y":{"field":"y","type":"quantitative","axis":null,"scale":{"domain":[0,100],"range":[111,460]}},"text":{"field":"t"}}},
{"data":{"values":[{"x":50,"y":-11.4,"t":"-/-"}]},"mark":{"type":"text","style":"sup3","xOffset":-37,"yOffset":-18},"encoding":{"x":{"field":"x","type":"quantitative","axis":null,"scale":{"domain":[0,100],"range":[0,317]}},"y":{"field":"y","type":"quantitative","axis":null,"scale":{"domain":[0,100],"range":[111,460]}},"text":{"field":"t"}}}
]}
]},
{"bounds":"flush","spacing":60,"hconcat":[
{"width":667,"height":594,"data":{"values":[{"g":"1 wt-PMI","v":3.07,"e":3.2,"b":1},{"g":"2 wt-PMI Iso","v":4.19,"e":4.43,"b":1},{"g":"3 Nod1-PMI","v":3.85,"e":4.09,"b":1},{"g":"4 Nod1-PMI Iso","v":5.42,"e":5.63,"b":1}]},
"layer":[
{"mark":{"type":"rule","strokeWidth":2.5,"color":"#111"},"encoding":{"x":{"field":"g","type":"nominal","axis":null},"y":{"field":"v","type":"quantitative","scale":{"domain":[1,7.49]}},"y2":{"field":"e"}}},
{"mark":{"type":"tick","size":11,"thickness":2.5,"color":"#111"},"encoding":{"x":{"field":"g","type":"nominal","axis":null},"y":{"field":"e","type":"quantitative","scale":{"domain":[1,7.49]}}}},
{"mark":{"type":"bar","stroke":"#1a1a1a","strokeWidth":2.5},"encoding":{"x":{"field":"g","type":"nominal","axis":null,"scale":{"range":[60,488],"paddingInner":0.177,"paddingOuter":0}},"y":{"field":"v","type":"quantitative","scale":{"domain":[1,7.49]},"axis":{"title":"F/F0","offset":-33,"values":[1,1.5,2,2.5,3,3.5,4,4.5,5,5.5,6],"domainDash":[457.5,2000],"labelExpr":"datum.value % 1 == 0 ? datum.label : ''","tickSize":{"condition":{"test":"datum.value % 1 == 0","value":8},"value":4},"labelFont":"Liberation Sans","labelFontWeight":"bold","labelFontSize":62,"labelPadding":12,"labelOffset":-8,"titleFont":"Liberation Sans","titleFontWeight":"bold","titleFontSize":60,"titleX":-58,"titleY":352}},"y2":{"field":"b"},"color":{"field":"g","type":"nominal","legend":null,"scale":{"range":["#000000","#ff0000","#0070c0","#8eb4e3"]}}}},
{"transform":[{"filter":"indexof(datum.g,'Iso')>=0"}],"mark":{"type":"text","style":"iso3","yOffset":-8,"xOffset":-4},"encoding":{"x":{"field":"g","type":"nominal","axis":null},"y":{"datum":1,"type":"quantitative","scale":{"domain":[1,7.49]}},"text":{"value":"Iso"}}},
{"data":{"values":[{"g":"2 wt-PMI Iso","t":"*","y":4.84}]},"mark":{"type":"text","style":"star","yOffset":16},"encoding":{"x":{"field":"g","type":"nominal","axis":null},"y":{"field":"y","type":"quantitative","scale":{"domain":[1,7.49]}},"text":{"field":"t"}}},
{"data":{"values":[{"g":"3 Nod1-PMI","t":"*","y":4.45}]},"mark":{"type":"text","style":"star","yOffset":16,"xOffset":-5},"encoding":{"x":{"field":"g","type":"nominal","axis":null},"y":{"field":"y","type":"quantitative","scale":{"domain":[1,7.49]}},"text":{"field":"t"}}},
{"data":{"values":[{"g":"4 Nod1-PMI Iso","t":"&&&,###","y":6.02}]},"mark":{"type":"text","style":"note3","xOffset":30},"encoding":{"x":{"field":"g","type":"nominal","axis":null},"y":{"field":"y","type":"quantitative","scale":{"domain":[1,7.49]}},"text":{"field":"t"}}},
{"data":{"values":[{"s":"1 wt-PMI","t":"2 wt-PMI Iso"}]},"mark":{"type":"rule","strokeWidth":8,"color":"#000","yOffset":25,"xOffset":-11,"x2Offset":5},"encoding":{"x":{"field":"s","type":"nominal","axis":null},"x2":{"field":"t"},"y":{"datum":1,"type":"quantitative","scale":{"domain":[1,7.49]}}}},
{"data":{"values":[{"s":"3 Nod1-PMI","t":"4 Nod1-PMI Iso"}]},"mark":{"type":"rule","strokeWidth":8,"color":"#000","yOffset":25,"xOffset":-18,"x2Offset":-4},"encoding":{"x":{"field":"s","type":"nominal","axis":null},"x2":{"field":"t"},"y":{"datum":1,"type":"quantitative","scale":{"domain":[1,7.49]}}}},
{"data":{"values":[{"g":"1 wt-PMI","t":"wt-PMI"}]},"mark":{"type":"text","style":"lab3","yOffset":82,"xOffset":42},"encoding":{"x":{"field":"g","type":"nominal","axis":null},"y":{"datum":1,"type":"quantitative","scale":{"domain":[1,7.49]}},"text":{"field":"t"}}},
{"data":{"values":[{"g":"3 Nod1-PMI","t":"Nod1"}]},"mark":{"type":"text","style":"lab3r","yOffset":82,"xOffset":121},"encoding":{"x":{"field":"g","type":"nominal","axis":null},"y":{"datum":1,"type":"quantitative","scale":{"domain":[1,7.49]}},"text":{"field":"t"}}},
{"data":{"values":[{"g":"3 Nod1-PMI","t":"-/-"}]},"mark":{"type":"text","style":"sup3","yOffset":64,"xOffset":122},"encoding":{"x":{"field":"g","type":"nominal","axis":null},"y":{"datum":1,"type":"quantitative","scale":{"domain":[1,7.49]}},"text":{"field":"t"}}},
{"data":{"values":[{"g":"3 Nod1-PMI","t":"-PMI"}]},"mark":{"type":"text","style":"lab3l","yOffset":82,"xOffset":155},"encoding":{"x":{"field":"g","type":"nominal","axis":null},"y":{"datum":1,"type":"quantitative","scale":{"domain":[1,7.49]}},"text":{"field":"t"}}},
{"data":{"values":[{"g":"1 wt-PMI","t":"E","y":6.66}]},"mark":{"type":"text","style":"letter","xOffset":-211},"encoding":{"x":{"field":"g","type":"nominal","axis":null},"y":{"field":"y","type":"quantitative","scale":{"domain":[1,7.49]}},"text":{"field":"t"}}}
]},
{"width":694,"height":593,"data":{"values":[{"g":"1 wt-PMI","v":3.94,"e":4.8,"b":0},{"g":"2 wt-PMI Iso","v":7.94,"e":9.3,"b":0},{"g":"3 Nod1-PMI","v":12.28,"e":15.1,"b":0},{"g":"4 Nod1-PMI Iso","v":18.4,"e":21.7,"b":0}]},
"layer":[
{"mark":{"type":"rule","strokeWidth":2.5,"color":"#111"},"encoding":{"x":{"field":"g","type":"nominal","axis":null},"y":{"field":"v","type":"quantitative","scale":{"domain":[0,28.16]}},"y2":{"field":"e"}}},
{"mark":{"type":"tick","size":11,"thickness":2.5,"color":"#111"},"encoding":{"x":{"field":"g","type":"nominal","axis":null},"y":{"field":"e","type":"quantitative","scale":{"domain":[0,28.16]}}}},
{"mark":{"type":"bar","stroke":"#1a1a1a","strokeWidth":2.5},"encoding":{"x":{"field":"g","type":"nominal","axis":null,"scale":{"range":[8,459],"paddingInner":0.19,"paddingOuter":0}},"y":{"field":"v","type":"quantitative","scale":{"domain":[0,28.16]},"axis":{"title":"CC (%)","values":[0,2.5,5,7.5,10,12.5,15,17.5,20,22.6],"domainDash":[476,2000],"labelExpr":"datum.value % 5 == 0 ? datum.label : ''","tickSize":{"condition":{"test":"datum.value % 5 == 0","value":8},"value":4},"labelFont":"Liberation Sans","labelFontWeight":"bold","labelFontSize":62,"labelPadding":11,"labelOffset":-2,"titleFont":"Liberation Sans","titleFontWeight":"bold","titleFontSize":56,"titleX":-93,"titleY":402}},"y2":{"field":"b"},"color":{"field":"g","type":"nominal","legend":null,"scale":{"range":["#000000","#ff0000","#0070c0","#8eb4e3"]}}}},
{"transform":[{"filter":"indexof(datum.g,'Iso')>=0"}],"mark":{"type":"text","style":"iso3","yOffset":-7,"xOffset":-4},"encoding":{"x":{"field":"g","type":"nominal","axis":null},"y":{"datum":0,"type":"quantitative","scale":{"domain":[0,28.16]}},"text":{"value":"Iso"}}},
{"data":{"values":[{"g":"2 wt-PMI Iso","t":"*","y":10.56}]},"mark":{"type":"text","style":"star","yOffset":16,"xOffset":-3},"encoding":{"x":{"field":"g","type":"nominal","axis":null},"y":{"field":"y","type":"quantitative","scale":{"domain":[0,28.16]}},"text":{"field":"t"}}},
{"data":{"values":[{"g":"3 Nod1-PMI","t":"*","y":16.96}]},"mark":{"type":"text","style":"star","yOffset":16},"encoding":{"x":{"field":"g","type":"nominal","axis":null},"y":{"field":"y","type":"quantitative","scale":{"domain":[0,28.16]}},"text":{"field":"t"}}},
{"data":{"values":[{"g":"4 Nod1-PMI Iso","t":"&,#","y":23.55}]},"mark":{"type":"text","style":"note3","xOffset":3},"encoding":{"x":{"field":"g","type":"nominal","axis":null},"y":{"field":"y","type":"quantitative","scale":{"domain":[0,28.16]}},"text":{"field":"t"}}},
{"data":{"values":[{"s":"1 wt-PMI","t":"2 wt-PMI Iso"}]},"mark":{"type":"rule","strokeWidth":8,"color":"#000","yOffset":25,"xOffset":6,"x2Offset":12},"encoding":{"x":{"field":"s","type":"nominal","axis":null},"x2":{"field":"t"},"y":{"datum":0,"type":"quantitative","scale":{"domain":[0,28.16]}}}},
{"data":{"values":[{"s":"3 Nod1-PMI","t":"4 Nod1-PMI Iso"}]},"mark":{"type":"rule","strokeWidth":8,"color":"#000","yOffset":25,"xOffset":-14,"x2Offset":-6},"encoding":{"x":{"field":"s","type":"nominal","axis":null},"x2":{"field":"t"},"y":{"datum":0,"type":"quantitative","scale":{"domain":[0,28.16]}}}},
{"data":{"values":[{"g":"1 wt-PMI","t":"wt-PMI"}]},"mark":{"type":"text","style":"lab3","yOffset":82,"xOffset":67},"encoding":{"x":{"field":"g","type":"nominal","axis":null},"y":{"datum":0,"type":"quantitative","scale":{"domain":[0,28.16]}},"text":{"field":"t"}}},
{"data":{"values":[{"g":"3 Nod1-PMI","t":"Nod1"}]},"mark":{"type":"text","style":"lab3r","yOffset":82,"xOffset":130},"encoding":{"x":{"field":"g","type":"nominal","axis":null},"y":{"datum":0,"type":"quantitative","scale":{"domain":[0,28.16]}},"text":{"field":"t"}}},
{"data":{"values":[{"g":"3 Nod1-PMI","t":"-/-"}]},"mark":{"type":"text","style":"sup3","yOffset":64,"xOffset":131},"encoding":{"x":{"field":"g","type":"nominal","axis":null},"y":{"datum":0,"type":"quantitative","scale":{"domain":[0,28.16]}},"text":{"field":"t"}}},
{"data":{"values":[{"g":"3 Nod1-PMI","t":"-PMI"}]},"mark":{"type":"text","style":"lab3l","yOffset":82,"xOffset":164},"encoding":{"x":{"field":"g","type":"nominal","axis":null},"y":{"datum":0,"type":"quantitative","scale":{"domain":[0,28.16]}},"text":{"field":"t"}}},
{"data":{"values":[{"g":"1 wt-PMI","t":"F","y":24.55}]},"mark":{"type":"text","style":"letter","xOffset":-193},"encoding":{"x":{"field":"g","type":"nominal","axis":null},"y":{"field":"y","type":"quantitative","scale":{"domain":[0,28.16]}},"text":{"field":"t"}}}
]},
{"width":520,"height":597,"data":{"values":[{"g":"1 wt-PMI","v":155.7,"e":166,"b":0},{"g":"2 wt-PMI Iso","v":116,"e":126.5,"b":0},{"g":"3 Nod1-PMI","v":108,"e":121.7,"b":0},{"g":"4 Nod1-PMI Iso","v":70.9,"e":74.4,"b":3.4}]},
"layer":[
{"mark":{"type":"rule","strokeWidth":2.5,"color":"#111"},"encoding":{"x":{"field":"g","type":"nominal","axis":null},"y":{"field":"v","type":"quantitative","scale":{"domain":[0,221.1]}},"y2":{"field":"e"}}},
{"mark":{"type":"tick","size":11,"thickness":2.5,"color":"#111"},"encoding":{"x":{"field":"g","type":"nominal","axis":null},"y":{"field":"e","type":"quantitative","scale":{"domain":[0,221.1]}}}},
{"mark":{"type":"bar","stroke":"#1a1a1a","strokeWidth":2.5},"encoding":{"x":{"field":"g","type":"nominal","axis":null,"scale":{"range":[37,485],"paddingInner":0.176,"paddingOuter":0}},"y":{"field":"v","type":"quantitative","scale":{"domain":[0,221.1]},"axis":{"title":"Tau (ms)","values":[0,20,40,60,80,100,120,140,160,180],"domainDash":[486,2000],"labelExpr":"datum.value % 40 == 0 ? datum.label : ''","tickSize":{"condition":{"test":"datum.value % 40 == 0","value":8},"value":4},"labelFont":"Liberation Sans","labelFontWeight":"bold","labelFontSize":62,"labelPadding":10,"titleFont":"Liberation Sans","titleFontWeight":"bold","titleFontSize":60,"titleX":-112,"titleY":378}},"y2":{"field":"b"},"color":{"field":"g","type":"nominal","legend":null,"scale":{"range":["#000000","#ff0000","#0070c0","#8eb4e3"]}}}},
{"transform":[{"filter":"indexof(datum.g,'Iso')>=0"}],"mark":{"type":"text","style":"iso3","yOffset":-12,"xOffset":-3},"encoding":{"x":{"field":"g","type":"nominal","axis":null},"y":{"datum":0,"type":"quantitative","scale":{"domain":[0,221.1]}},"text":{"value":"Iso"}}},
{"data":{"values":[{"g":"2 wt-PMI Iso","t":"*","y":145.3}]},"mark":{"type":"text","style":"star","yOffset":16,"xOffset":2},"encoding":{"x":{"field":"g","type":"nominal","axis":null},"y":{"field":"y","type":"quantitative","scale":{"domain":[0,221.1]}},"text":{"field":"t"}}},
{"data":{"values":[{"g":"3 Nod1-PMI","t":"*","y":131}]},"mark":{"type":"text","style":"star","yOffset":16,"xOffset":-3},"encoding":{"x":{"field":"g","type":"nominal","axis":null},"y":{"field":"y","type":"quantitative","scale":{"domain":[0,221.1]}},"text":{"field":"t"}}},
{"data":{"values":[{"g":"4 Nod1-PMI Iso","t":"&&,###","y":85.5}]},"mark":{"type":"text","style":"note3","xOffset":25},"encoding":{"x":{"field":"g","type":"nominal","axis":null},"y":{"field":"y","type":"quantitative","scale":{"domain":[0,221.1]}},"text":{"field":"t"}}},
{"data":{"values":[{"s":"1 wt-PMI","t":"2 wt-PMI Iso"}]},"mark":{"type":"rule","strokeWidth":8,"color":"#000","yOffset":24,"xOffset":-12,"x2Offset":4},"encoding":{"x":{"field":"s","type":"nominal","axis":null},"x2":{"field":"t"},"y":{"datum":0,"type":"quantitative","scale":{"domain":[0,221.1]}}}},
{"data":{"values":[{"s":"3 Nod1-PMI","t":"4 Nod1-PMI Iso"}]},"mark":{"type":"rule","strokeWidth":8,"color":"#000","yOffset":24,"xOffset":-19,"x2Offset":-4},"encoding":{"x":{"field":"s","type":"nominal","axis":null},"x2":{"field":"t"},"y":{"datum":0,"type":"quantitative","scale":{"domain":[0,221.1]}}}},
{"data":{"values":[{"g":"1 wt-PMI","t":"wt-PMI"}]},"mark":{"type":"text","style":"lab3","yOffset":78,"xOffset":48},"encoding":{"x":{"field":"g","type":"nominal","axis":null},"y":{"datum":0,"type":"quantitative","scale":{"domain":[0,221.1]}},"text":{"field":"t"}}},
{"data":{"values":[{"g":"3 Nod1-PMI","t":"Nod1"}]},"mark":{"type":"text","style":"lab3r","yOffset":78,"xOffset":131},"encoding":{"x":{"field":"g","type":"nominal","axis":null},"y":{"datum":0,"type":"quantitative","scale":{"domain":[0,221.1]}},"text":{"field":"t"}}},
{"data":{"values":[{"g":"3 Nod1-PMI","t":"-/-"}]},"mark":{"type":"text","style":"sup3","yOffset":60,"xOffset":132},"encoding":{"x":{"field":"g","type":"nominal","axis":null},"y":{"datum":0,"type":"quantitative","scale":{"domain":[0,221.1]}},"text":{"field":"t"}}},
{"data":{"values":[{"g":"3 Nod1-PMI","t":"-PMI"}]},"mark":{"type":"text","style":"lab3l","yOffset":78,"xOffset":165},"encoding":{"x":{"field":"g","type":"nominal","axis":null},"y":{"datum":0,"type":"quantitative","scale":{"domain":[0,221.1]}},"text":{"field":"t"}}},
{"data":{"values":[{"g":"1 wt-PMI","t":"G","y":192.96}]},"mark":{"type":"text","style":"letter","xOffset":-262},"encoding":{"x":{"field":"g","type":"nominal","axis":null},"y":{"field":"y","type":"quantitative","scale":{"domain":[0,221.1]}},"text":{"field":"t"}}}
]}
]}
]}
